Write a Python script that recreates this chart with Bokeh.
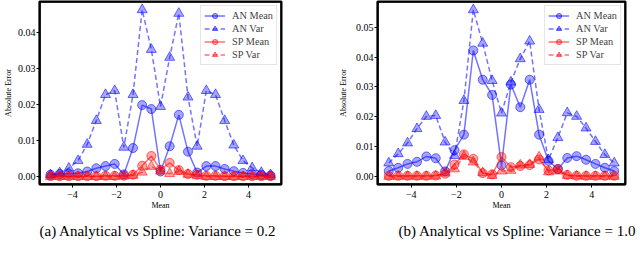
import numpy as np
from bokeh.plotting import figure
from bokeh.layouts import row
from bokeh.models import (FixedTicker, CustomJSTickFormatter, PrintfTickFormatter,
                          Range1d, Title)
from bokeh.embed import file_html
from bokeh.resources import INLINE

# ---------------- data ----------------
x_vals = [-5.0, -4.583, -4.167, -3.75, -3.333, -2.917, -2.5, -2.083, -1.667, -1.25,
          -0.833, -0.417, 0.0, 0.417, 0.833, 1.25, 1.667, 2.083, 2.5, 2.917,
          3.333, 3.75, 4.167, 4.583, 5.0]

# (a) variance = 0.2
an_mean_a = [0.0005, 0.0007, 0.0008, 0.0009, 0.0014, 0.0023, 0.0029, 0.0035, 0.0006, 0.0079,
             0.0198, 0.0187, 0.0014, 0.0084, 0.0171, 0.0069, 0.0011, 0.0029, 0.0029, 0.0021,
             0.0015, 0.0010, 0.0007, 0.0005, 0.0003]
an_var_a = [0.0005, 0.0010, 0.0023, 0.0044, 0.0089, 0.0155, 0.0227, 0.0238, 0.0081, 0.0227,
            0.0462, 0.0352, 0.0194, 0.0330, 0.0452, 0.0220, 0.0084, 0.0238, 0.0227, 0.0155,
            0.0087, 0.0044, 0.0024, 0.0011, 0.0005]
sp_mean_a = [0.0001, 0.0001, 0.0001, 0.0001, 0.0001, 0.0001, 0.0002, 0.0002, 0.0002, 0.0005,
             0.0030, 0.0057, 0.0019, 0.0038, 0.0018, 0.0007, 0.0005, 0.0002, 0.0002, 0.0001,
             0.0001, 0.0001, 0.0001, 0.0001, 0.0001]
sp_var_a = [0.0000, 0.0000, 0.0000, 0.0000, 0.0000, 0.0000, 0.0000, 0.0000, 0.0001, 0.0003,
            0.0012, 0.0028, 0.0015, 0.0008, 0.0014, 0.0006, 0.0002, 0.0000, 0.0000, 0.0000,
            0.0000, 0.0000, 0.0000, 0.0000, 0.0000]

# (b) variance = 1.0
an_mean_b = [0.0018, 0.0029, 0.0042, 0.0049, 0.0067, 0.0061, 0.0017, 0.0088, 0.0140, 0.0422,
             0.0324, 0.0273, 0.0037, 0.0308, 0.0232, 0.0324, 0.0140, 0.0052, 0.0025, 0.0062,
             0.0068, 0.0056, 0.0042, 0.0029, 0.0018]
an_var_b = [0.0045, 0.0076, 0.0112, 0.0160, 0.0201, 0.0204, 0.0115, 0.0070, 0.0254, 0.0558,
            0.0446, 0.0321, 0.0212, 0.0316, 0.0394, 0.0453, 0.0224, 0.0056, 0.0130, 0.0213,
            0.0201, 0.0162, 0.0117, 0.0073, 0.0045]
sp_mean_b = [0.0002, 0.0002, 0.0002, 0.0002, 0.0002, 0.0003, 0.0009, 0.0040, 0.0074, 0.0059,
             0.0011, 0.0007, 0.0065, 0.0031, 0.0035, 0.0038, 0.0057, 0.0020, 0.0025, 0.0005,
             0.0002, 0.0002, 0.0002, 0.0002, 0.0002]
sp_var_b = [0.0000, 0.0000, 0.0000, 0.0000, 0.0000, 0.0001, 0.0011, 0.0025, 0.0067, 0.0048,
            0.0012, 0.0003, 0.0018, 0.0020, 0.0038, 0.0040, 0.0065, 0.0015, 0.0018, 0.0003,
            0.0001, 0.0000, 0.0000, 0.0000, 0.0000]

x_ticks = [-4, -2, 0, 2, 4]
y_ticks_a = [0.0, 0.01, 0.02, 0.03, 0.04]
y_ticks_b = [0.0, 0.01, 0.02, 0.03, 0.04, 0.05]
caption_a = "(a) Analytical vs Spline: Variance = 0.2"
caption_b = "(b) Analytical vs Spline: Variance = 1.0"

SERIF = "Liberation Serif"
BLUE = "#0000ff"
RED = "#ff0000"
X_START, X_END = -5.5, 5.5


def make_plot(an_mean, an_var, sp_mean, sp_var, y_ticks, y_start, y_end, mbl, mbr,
              ylab_standoff, cap_offset, caption):
    p = figure(width=320, height=255, x_range=Range1d(X_START, X_END),
               y_range=Range1d(y_start, y_end), title="",
               output_backend="svg", toolbar_location=None,
               min_border_left=mbl, min_border_right=mbr,
               min_border_top=1, min_border_bottom=71)
    p.title.standoff = 0
    p.title.offset = 0
    p.outline_line_color = "black"
    p.outline_line_width = 2
    p.xgrid.visible = False
    p.ygrid.visible = False

    for r, col, lbl, dash, mk, sz in [
        (an_mean, BLUE, "AN Mean", "solid", "circle", 9),
        (an_var, BLUE, "AN Var", "5 3", "triangle", 10),
        (sp_mean, RED, "SP Mean", "solid", "circle", 9),
        (sp_var, RED, "SP Var", "5 3", "triangle", 10),
    ]:
        p.line(x_vals, r, line_color=col, line_width=1.5, line_alpha=0.55,
               line_dash=dash, legend_label=lbl)
        p.scatter(x_vals, r, marker=mk, size=sz, fill_color=col, fill_alpha=0.35,
                  line_color=col, line_alpha=0.55, line_width=1, legend_label=lbl)

    # axes frame (box around the plotting area, drawn on the range limits)
    p.quad(left=[X_START], right=[X_END], bottom=[y_start], top=[y_end],
           fill_color=None, line_color="black", line_width=2.5)

    for ax in (p.xaxis[0], p.yaxis[0]):
        ax.axis_line_color = "black"
        ax.axis_line_width = 1.5
        ax.major_tick_line_color = "black"
        ax.major_tick_out = 3
        ax.major_tick_in = 0
        ax.minor_tick_out = 0
        ax.minor_tick_in = 0
        ax.major_label_text_font = SERIF
        ax.major_label_text_font_size = "10px"
        ax.major_label_text_color = "black"
        ax.major_label_standoff = 1
        ax.axis_label_text_font = SERIF
        ax.axis_label_text_font_size = "8px"
        ax.axis_label_text_font_style = "normal"
        ax.axis_label_text_color = "black"

    p.xaxis.ticker = FixedTicker(ticks=x_ticks)
    p.xaxis.formatter = CustomJSTickFormatter(
        code="return tick < 0 ? '\\u2212' + (-tick) : '' + tick;")
    p.xaxis.major_label_standoff = 3
    p.xaxis.axis_label = "Mean"
    p.xaxis.axis_label_standoff = 0

    p.yaxis.ticker = FixedTicker(ticks=y_ticks)
    p.yaxis.formatter = PrintfTickFormatter(format="%.2f")
    p.yaxis.axis_label = "Absolute Error"
    p.yaxis.axis_label_standoff = ylab_standoff

    cap = Title(text=caption, align="left", offset=cap_offset, standoff=16,
                text_font=SERIF, text_font_size="15px", text_font_style="normal",
                text_color="black")
    p.add_layout(cap, "below")

    lg = p.legend[0]
    lg.location = "top_right"
    lg.margin = 4
    lg.padding = 3
    lg.spacing = 0
    lg.label_height = 13
    lg.glyph_height = 13
    lg.glyph_width = 21
    lg.label_standoff = 7
    lg.label_text_font = SERIF
    lg.label_text_font_size = "10.3px"
    lg.border_line_color = "#cccccc"
    lg.background_fill_alpha = 0.8
    return p


p1 = make_plot(an_mean_a, an_var_a, sp_mean_a, sp_var_a, y_ticks_a, -0.0022, 0.0485,
               mbl=33, mbr=39, ylab_standoff=2, cap_offset=0, caption=caption_a)
p2 = make_plot(an_mean_b, an_var_b, sp_mean_b, sp_var_b, y_ticks_b, -0.0027, 0.0586,
               mbl=57, mbr=15, ylab_standoff=5, cap_offset=21, caption=caption_b)

layout = row(p1, p2)
open("out.html", "w").write(file_html(layout, INLINE))
